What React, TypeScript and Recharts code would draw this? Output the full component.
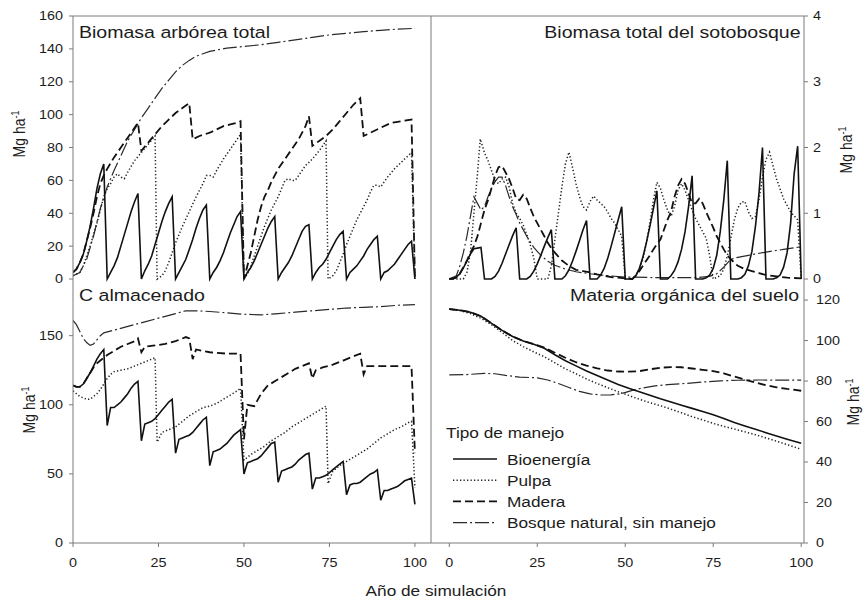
import React from 'react';
import { LineChart, Line, XAxis, YAxis, ReferenceLine } from 'recharts';

type Pt = [number, number];

// ---- Biomasa arbórea total (Mg ha-1) ----
const arbBio: Pt[] = [
  [0, 4], [1, 6], [2, 10], [3, 15], [4, 23], [5, 32], [6, 43], [7, 55], [8, 64], [9, 70], [10, 0],
  [11, 4], [12, 8], [13, 13], [14, 20], [15, 27], [16, 34], [17, 41], [18, 47], [19, 52], [20, 0],
  [21, 5], [22, 9], [23, 14], [24, 21], [25, 28], [26, 35], [27, 41], [28, 46], [29, 50], [30, 0],
  [31, 4], [32, 8], [33, 12], [34, 18], [35, 24], [36, 31], [37, 37], [38, 42], [39, 45], [40, 0],
  [41, 4], [42, 7], [43, 11], [44, 16], [45, 22], [46, 28], [47, 33], [48, 38], [49, 41], [50, 0],
  [51, 4], [52, 7], [53, 11], [54, 16], [55, 21], [56, 26], [57, 31], [58, 35], [59, 38], [60, 0],
  [61, 4], [62, 7], [63, 10], [64, 14], [65, 19], [66, 24], [67, 29], [68, 32], [69, 33], [70, 0],
  [71, 4], [72, 7], [73, 9], [74, 12], [75, 16], [76, 20], [77, 24], [78, 27], [79, 29], [80, 0],
  [81, 4], [82, 6], [83, 8], [84, 11], [85, 14], [86, 18], [87, 21], [88, 24], [89, 26], [90, 0],
  [91, 4], [92, 5], [93, 7], [94, 9], [95, 12], [96, 15], [97, 18], [98, 21], [99, 23], [100, 0],
];
const arbPulpa: Pt[] = [
  [0, 2], [1, 3], [2, 4], [3, 8], [4, 14], [5, 20], [6, 27], [7, 34], [8, 42], [9, 50], [10, 55],
  [11, 58], [12, 62], [13, 64], [14, 62], [15, 61], [16, 65], [18, 72], [20, 77], [22, 82], [24, 87], [24.6, 0],
  [26, 2], [27, 5], [28, 10], [29, 16], [30, 22], [31, 27], [32, 32], [34, 41], [36, 50], [38, 58], [39, 63],
  [40, 63], [41, 62], [42, 66], [44, 73], [46, 79], [48, 85], [49, 88], [50, 0],
  [51, 3], [52, 8], [53, 14], [54, 20], [55, 26], [56, 32], [57, 37], [58, 42], [59, 46], [60, 50],
  [61, 55], [62, 60], [63, 61], [64, 60], [65, 60], [66, 63], [67, 66], [68, 69], [70, 73], [72, 78], [74, 84], [74.6, 0],
  [76, 2], [77, 5], [78, 10], [79, 15], [80, 21], [81, 26], [82, 31], [83, 36], [84, 40], [85, 44],
  [86, 48], [87, 53], [88, 57], [89, 57], [90, 56], [91, 59], [92, 62], [94, 67], [96, 71], [98, 75], [99, 77], [100, 0],
];
const arbMadera: Pt[] = [
  [0, 4], [1, 6], [2, 10], [3, 15], [4, 23], [5, 31], [6, 40], [7, 50], [8, 58], [9, 63], [10, 67],
  [12, 74], [14, 80], [16, 86], [18, 92], [19, 95], [20, 78], [22, 83], [24, 88], [26, 93], [28, 97],
  [30, 101], [32, 104], [34, 107], [35, 85], [37, 87], [40, 89], [42, 91], [44, 93], [46, 94], [48, 95], [49, 96], [50, 0],
  [51, 8], [52, 16], [53, 26], [54, 36], [55, 44], [56, 50], [57, 54], [58, 59], [59, 63], [60, 67],
  [62, 73], [64, 79], [66, 85], [68, 93], [69, 99], [70, 81], [72, 84], [74, 87], [76, 91], [78, 96],
  [80, 101], [82, 106], [84, 110], [85, 87], [87, 89], [90, 92], [93, 95], [96, 96], [99, 97], [100, 0],
];
const arbNatural: Pt[] = [
  [0, 2], [2, 4], [4, 12], [6, 26], [8, 43], [10, 56], [12, 66], [14, 75], [16, 84], [18, 91], [20, 98],
  [22, 104], [24, 110], [26, 116], [28, 121], [30, 126], [32, 130], [34, 133], [36, 135.5], [38, 137],
  [40, 138.5], [45, 140.5], [50, 141.5], [55, 142.5], [60, 144], [65, 145.5], [70, 147], [75, 148.5],
  [80, 149.5], [85, 150.5], [90, 151.3], [95, 152], [100, 152.5],
];

// ---- Biomasa total del sotobosque (Mg ha-1) ----
const sotBio: Pt[] = [
  [0, 0], [1, 0], [2, 0.03], [3, 0.08], [4, 0.17], [5, 0.27], [6, 0.38], [7, 0.46], [8, 0.47], [9, 0.48], [10, 0],
  [12, 0], [13, 0.04], [14, 0.12], [15, 0.24], [16, 0.38], [17, 0.52], [18, 0.66], [19, 0.78], [20, 0],
  [22, 0], [23, 0.04], [24, 0.12], [25, 0.23], [26, 0.36], [27, 0.5], [28, 0.63], [29, 0.75], [30, 0],
  [32, 0], [33, 0.05], [34, 0.14], [35, 0.27], [36, 0.42], [37, 0.58], [38, 0.75], [39, 0.89], [40, 0],
  [42, 0], [43, 0.06], [44, 0.16], [45, 0.31], [46, 0.5], [47, 0.7], [48, 0.9], [49, 1.1], [50, 0],
  [52, 0], [53, 0.05], [54, 0.16], [55, 0.33], [56, 0.55], [57, 0.8], [58, 1.07], [59, 1.34], [60, 0],
  [62, 0], [63, 0.05], [64, 0.13], [65, 0.26], [66, 0.45], [67, 0.72], [68, 1.1], [69, 1.57], [70, 0],
  [72, 0], [73, 0.02], [74, 0.06], [75, 0.16], [76, 0.36], [77, 0.72], [78, 1.2], [79, 1.8], [80, 0],
  [82, 0], [83, 0.02], [84, 0.07], [85, 0.2], [86, 0.42], [87, 0.8], [88, 1.3], [89, 2.0], [90, 0],
  [92, 0], [93, 0.02], [94, 0.06], [95, 0.18], [96, 0.4], [97, 0.85], [98, 1.6], [99, 2.02], [100, 0],
];
const sotPulpa: Pt[] = [
  [0, 0], [4, 0], [5, 0.1], [6, 0.4], [7, 1.0], [8, 1.6], [8.8, 2.13], [10, 1.92], [11, 1.8], [12, 1.65],
  [13, 1.5], [14, 1.45], [15, 1.52], [16, 1.55], [17, 1.4], [18, 1.15], [19, 1.0], [20, 0.92], [21, 0.82],
  [22, 0.68], [23, 0.52], [24, 0.32], [25, 0],
  [28, 0], [29, 0.2], [30, 0.6], [31, 1.0], [32, 1.4], [33, 1.75], [34, 1.93], [35, 1.7], [36, 1.45],
  [37, 1.25], [38, 1.1], [39, 1.05], [40, 1.18], [41, 1.26], [42, 1.2], [43, 1.15], [44, 1.1], [45, 1.02],
  [46, 0.92], [47, 0.85], [48, 0.75], [49, 0.65], [50, 0],
  [52, 0], [53, 0.05], [54, 0.15], [55, 0.3], [56, 0.55], [57, 0.85], [58, 1.2], [59, 1.47], [60, 1.38],
  [61, 1.2], [62, 1.05], [63, 0.95], [64, 1.1], [65, 1.35], [66, 1.45], [67, 1.35], [68, 1.2], [69, 1.05],
  [70, 0.92], [71, 0.82], [72, 0.72], [73, 0.62], [74, 0.35], [75, 0],
  [77, 0.05], [78, 0.15], [79, 0.35], [80, 0.62], [81, 0.9], [82, 1.08], [83, 1.17], [84, 1.18], [85, 1.02],
  [86, 0.92], [87, 0.95], [88, 1.2], [89, 1.55], [90, 1.82], [91, 1.93], [92, 1.72], [93, 1.52], [94, 1.37],
  [95, 1.22], [96, 1.12], [97, 1.02], [98, 0.96], [99, 0.9], [100, 0],
];
const sotMadera: Pt[] = [
  [0, 0], [2, 0.02], [3, 0.08], [4, 0.18], [5, 0.28], [6, 0.4], [7, 0.5], [8, 0.65], [9, 0.85], [10, 1.05],
  [11, 1.2], [12, 1.38], [13, 1.57], [14, 1.7], [15, 1.72], [16, 1.62], [17, 1.52], [18, 1.38], [19, 1.22],
  [20, 1.2], [21, 1.28], [22, 1.22], [23, 1.08], [24, 0.95], [25, 0.85], [26, 0.75], [27, 0.65], [28, 0.55],
  [29, 0.47], [30, 0.4], [32, 0.28], [34, 0.2], [36, 0.14], [38, 0.12], [40, 0.1], [42, 0.07], [44, 0.05],
  [46, 0.03], [48, 0.02], [50, 0.01], [52, 0], [53, 0.05], [54, 0.12], [55, 0.2], [56, 0.28], [57, 0.36],
  [58, 0.45], [59, 0.53], [60, 0.6], [61, 0.75], [62, 0.9], [63, 1.02], [64, 1.25], [65, 1.42], [66, 1.52],
  [67, 1.45], [68, 1.3], [69, 1.15], [70, 1.15], [71, 1.22], [72, 1.15], [73, 1.02], [74, 0.9], [75, 0.78],
  [76, 0.65], [77, 0.55], [78, 0.45], [79, 0.36], [80, 0.3], [82, 0.2], [84, 0.15], [86, 0.12], [88, 0.09],
  [90, 0.06], [93, 0.04], [96, 0.02], [100, 0.01],
];
const sotNatural: Pt[] = [
  [0, 0], [2, 0.05], [3, 0.2], [4, 0.4], [5, 0.65], [6, 0.95], [7, 1.25], [8, 1.15], [9, 1.05], [10, 1.1],
  [11, 1.25], [12, 1.38], [13, 1.48], [14, 1.55], [15, 1.55], [16, 1.42], [17, 1.25], [18, 1.1], [19, 0.98],
  [20, 0.85], [22, 0.65], [24, 0.48], [26, 0.36], [28, 0.27], [30, 0.21], [33, 0.15], [36, 0.11], [40, 0.08],
  [45, 0.05], [50, 0.03], [60, 0.02], [70, 0.02], [74, 0.04], [76, 0.08], [78, 0.18], [80, 0.3], [82, 0.33],
  [85, 0.36], [90, 0.41], [95, 0.45], [100, 0.49],
];

// ---- C almacenado (Mg ha-1) ----
const cBio: Pt[] = [
  [0, 114], [1, 113], [2, 113], [3, 115], [4, 119], [5, 123], [6, 128], [7, 133], [8, 137], [9, 140], [10, 85],
  [11, 98], [12, 98], [13, 100], [14, 102], [15, 105], [16, 108], [17, 112], [18, 115], [19, 117], [20, 74],
  [21, 86], [22, 87], [23, 88], [24, 90], [25, 93], [26, 96], [27, 99], [28, 102], [29, 104], [30, 65],
  [31, 75], [32, 76], [33, 77], [34, 78], [35, 80], [36, 83], [37, 86], [38, 89], [39, 91], [40, 56],
  [41, 66], [42, 67], [43, 68], [44, 70], [45, 72], [46, 75], [47, 78], [48, 80], [49, 82], [50, 50],
  [51, 58], [52, 59], [53, 60], [54, 61], [55, 63], [56, 66], [57, 69], [58, 72], [59, 73], [60, 44],
  [61, 52], [62, 53], [63, 54], [64, 55], [65, 57], [66, 60], [67, 62], [68, 64], [69, 65], [70, 39],
  [71, 47], [72, 47], [73, 48], [74, 49], [75, 51], [76, 53], [77, 55], [78, 57], [79, 59], [80, 35],
  [81, 42], [82, 43], [83, 43], [84, 44], [85, 46], [86, 48], [87, 50], [88, 51], [89, 53], [90, 31],
  [91, 38], [92, 38], [93, 39], [94, 40], [95, 41], [96, 43], [97, 45], [98, 46], [99, 47], [100, 28],
];
const cPulpa: Pt[] = [
  [0, 110], [1, 108], [2, 106], [3, 105], [4, 104], [5, 104], [6, 106], [7, 108], [8, 111], [9, 115], [10, 119],
  [11, 122], [12, 124], [14, 125], [16, 126], [18, 128], [20, 130], [22, 132], [24, 134], [24.6, 73],
  [26, 80], [28, 82], [30, 84], [32, 88], [34, 92], [36, 95], [38, 98], [40, 99], [42, 101], [44, 104],
  [46, 107], [48, 110], [49, 112], [50, 60], [51, 62], [52, 64], [54, 67], [56, 70], [58, 74], [60, 77],
  [62, 80], [64, 84], [66, 87], [68, 90], [70, 93], [72, 96], [74, 99], [74.6, 43], [76, 52], [78, 56],
  [80, 59], [82, 62], [84, 65], [86, 68], [88, 72], [90, 76], [92, 79], [94, 82], [96, 84], [98, 87], [99, 88], [100, 40],
];
const cMadera: Pt[] = [
  [0, 114], [1, 113], [2, 113], [3, 115], [4, 119], [5, 123], [6, 127], [7, 130], [8, 132], [9, 134], [10, 136],
  [12, 139], [14, 142], [16, 144], [18, 146], [19, 148], [20, 138], [21, 142], [24, 143], [27, 144], [30, 146],
  [33, 149], [34, 148], [35, 133], [36, 140], [38, 139], [40, 138], [45, 137], [49, 137], [50, 75], [51, 100],
  [53, 99], [55, 108], [57, 114], [59, 117], [61, 120], [63, 123], [65, 126], [67, 128], [69, 130], [70, 119],
  [71, 125], [73, 127], [76, 129], [79, 132], [82, 135], [84, 137], [85, 122], [86, 128], [90, 128], [95, 128],
  [99, 128], [100, 65],
];
const cNatural: Pt[] = [
  [0, 161], [1, 158], [2, 153], [3, 148], [4, 145], [5, 143], [6, 144], [7, 147], [8, 150], [9, 152], [12, 154],
  [15, 156], [18, 158], [21, 160], [24, 162], [27, 164], [30, 166], [33, 168], [36, 168], [40, 167.5], [45, 166.5],
  [50, 165.5], [55, 165], [60, 166], [65, 167], [70, 168], [75, 169], [80, 170], [85, 170.5], [90, 171],
  [95, 172], [100, 172.5],
];

// ---- Materia orgánica del suelo (Mg ha-1) ----
const sueloBio: Pt[] = [
  [0, 115.5], [3, 115], [6, 114], [9, 112], [12, 108.5], [15, 105], [18, 102], [21, 99.8], [24, 98.2], [27, 96.2],
  [30, 93], [33, 90], [36, 87.5], [39, 85], [42, 82.7], [45, 80.5], [48, 78.3], [51, 76.4], [54, 74.7], [57, 73],
  [60, 71.2], [63, 69.6], [66, 68], [69, 66.5], [72, 64.9], [75, 63.3], [78, 61.5], [81, 59.5], [84, 57.8],
  [87, 56.2], [90, 54.5], [93, 52.9], [96, 51.3], [100, 49.3],
];
const sueloPulpa: Pt[] = [
  [0, 115.5], [3, 114.8], [6, 113.3], [9, 111], [12, 107.8], [15, 104], [18, 100], [21, 97], [24, 94.4], [27, 92],
  [30, 89], [33, 86], [36, 83.6], [39, 81], [42, 78.8], [45, 76.7], [48, 74.7], [51, 72.9], [54, 71], [57, 69.3],
  [60, 67.8], [63, 66.1], [66, 64.3], [69, 62.4], [72, 60.8], [75, 59.1], [78, 57.6], [81, 56.3], [84, 54.9],
  [87, 53.5], [90, 51.9], [93, 50.3], [96, 48.6], [100, 46.3],
];
const sueloMadera: Pt[] = [
  [0, 115.5], [3, 115], [6, 114], [9, 112], [12, 108.5], [15, 105], [18, 102], [21, 99.8], [24, 98.2], [27, 96.5],
  [30, 94], [33, 91.5], [36, 89.3], [39, 87.6], [42, 86.3], [45, 85.2], [48, 84.7], [51, 84.6], [54, 84.9],
  [57, 85.8], [60, 86.6], [63, 86.9], [66, 86.8], [69, 86.2], [72, 85.5], [75, 84.9], [78, 83.8], [81, 82.2],
  [84, 80.7], [87, 79.3], [90, 77.9], [93, 76.9], [96, 76.1], [100, 75.2],
];
const sueloNatural: Pt[] = [
  [0, 83], [5, 83.2], [10, 83.8], [13, 83.6], [16, 82.8], [20, 81.9], [25, 81.6], [28, 80.5], [31, 78.8],
  [34, 76.8], [37, 74.9], [40, 73.7], [43, 73.1], [46, 73.2], [49, 73.8], [52, 75.4], [55, 76.6], [58, 77.5],
  [62, 78.2], [67, 78.8], [72, 79.5], [77, 80.1], [82, 80.4], [88, 80.5], [94, 80.5], [100, 80.5],
];

const arbTicks = [0, 20, 40, 60, 80, 100, 120, 140, 160];
const sotTicks = [0, 1, 2, 3, 4];
const cTicks = [0, 50, 100, 150];
const sueloTicks = [0, 20, 40, 60, 80, 100, 120];
const yearTicks = [0, 25, 50, 75, 100];

const FONT = '"Liberation Sans", Arial, Helvetica, sans-serif';
const SX = 1.15; // the figure is stretched a bit horizontally
const AXIS = '#7a7a7a';
const INK = '#1c1c1c';

const STYLES = {
  natural: { name: 'Bosque natural, sin manejo', dash: '14 3 2 3', width: 1.2, color: '#2a2a2a' },
  madera: { name: 'Madera', dash: '8 4', width: 1.8, color: '#111' },
  pulpa: { name: 'Pulpa', dash: '1.3 2.2', width: 1.5, color: '#222' },
  bio: { name: 'Bioenergía', dash: undefined as string | undefined, width: 1.6, color: '#111' },
};
const ORDER: (keyof typeof STYLES)[] = ['natural', 'madera', 'pulpa', 'bio'];
const LEGEND_ORDER: (keyof typeof STYLES)[] = ['bio', 'pulpa', 'madera', 'natural'];

const toRows = (pts: Pt[]) => pts.map(([x, y]) => ({ x, y }));

const AxisTick = (props: any) => {
  const { x, y, payload, textAnchor, vertical } = props;
  return (
    <text
      transform={`translate(${x},${y}) scale(${SX},1)`}
      textAnchor={textAnchor}
      dy={vertical ? '0.35em' : '0.71em'}
      fontSize={12.5}
      fontFamily={FONT}
      fill={INK}
    >
      {payload.value}
    </text>
  );
};

const renderLines = (set: Record<string, Pt[]>) =>
  ORDER.map((k) => (
    <Line
      key={k}
      data={toRows(set[k])}
      dataKey="y"
      name={STYLES[k].name}
      type="linear"
      stroke={STYLES[k].color}
      strokeWidth={STYLES[k].width}
      strokeDasharray={STYLES[k].dash}
      dot={false}
      activeDot={false}
      isAnimationActive={false}
    />
  ));

const LEFT_DOMAIN: [number, number] = [0, 104.7];
const RIGHT_DOMAIN: [number, number] = [-5.2, 100.8];

const Label = ({ x, y, size, anchor = 'start', children }: any) => (
  <text
    transform={`translate(${x},${y}) scale(${SX},1)`}
    textAnchor={anchor}
    fontSize={size}
    fontFamily={FONT}
    fill={INK}
  >
    {children}
  </text>
);

const YLabel = ({ x, y }: { x: number; y: number }) => (
  <text
    transform={`translate(${x},${y}) scale(${SX},1) rotate(-90)`}
    textAnchor="middle"
    dy="0.35em"
    fontSize={14}
    fontFamily={FONT}
    fill={INK}
  >
    Mg ha<tspan dy={-5} fontSize={9}>-1</tspan>
  </text>
);

export default function App() {
  const lineAxis = { stroke: AXIS };
  return (
    <div style={{ position: 'absolute', left: 0, top: 0, width: 863, height: 600, background: '#fff', overflow: 'hidden' }}>
      {/* top left: Biomasa arbórea total */}
      <div style={{ position: 'absolute', left: 0, top: 0 }}>
        <LineChart width={440} height={290} margin={{ top: 16, right: 9, bottom: 11, left: 0 }}>
          <XAxis type="number" dataKey="x" domain={LEFT_DOMAIN} allowDataOverflow height={0} tick={false} tickLine={false} axisLine={lineAxis} />
          <YAxis type="number" domain={[0, 160]} ticks={arbTicks} interval={0} width={73} tickSize={4} tickMargin={6}
            axisLine={lineAxis} tickLine={lineAxis} tick={(p: any) => <AxisTick {...p} vertical />} />
          <ReferenceLine y={160} stroke={AXIS} ifOverflow="visible" />
          <ReferenceLine x={LEFT_DOMAIN[1]} stroke={AXIS} ifOverflow="visible" />
          {renderLines({ natural: arbNatural, madera: arbMadera, pulpa: arbPulpa, bio: arbBio })}
        </LineChart>
      </div>

      {/* top right: Biomasa total del sotobosque */}
      <div style={{ position: 'absolute', left: 431, top: 0 }}>
        <LineChart width={432} height={290} margin={{ top: 16, right: 0, bottom: 11, left: 0 }}>
          <XAxis type="number" dataKey="x" domain={RIGHT_DOMAIN} allowDataOverflow height={0} tick={false} tickLine={false} axisLine={lineAxis} />
          <YAxis type="number" orientation="right" domain={[0, 4]} ticks={sotTicks} interval={0} width={59} tickSize={4} tickMargin={5}
            axisLine={lineAxis} tickLine={lineAxis} tick={(p: any) => <AxisTick {...p} vertical />} />
          <ReferenceLine y={4} stroke={AXIS} ifOverflow="visible" />
          {renderLines({ natural: sotNatural, madera: sotMadera, pulpa: sotPulpa, bio: sotBio })}
        </LineChart>
      </div>

      {/* bottom left: C almacenado */}
      <div style={{ position: 'absolute', left: 0, top: 279 }}>
        <LineChart width={440} height={300} margin={{ top: 0, right: 9, bottom: 0, left: 0 }}>
          <XAxis type="number" dataKey="x" domain={LEFT_DOMAIN} allowDataOverflow ticks={yearTicks} interval={0} height={36} tickSize={4} tickMargin={11}
            axisLine={lineAxis} tickLine={lineAxis} tick={(p: any) => <AxisTick {...p} />} />
          <YAxis type="number" domain={[0, 191]} ticks={cTicks} interval={0} width={73} tickSize={4} tickMargin={6}
            axisLine={lineAxis} tickLine={lineAxis} tick={(p: any) => <AxisTick {...p} vertical />} />
          <ReferenceLine x={LEFT_DOMAIN[1]} stroke={AXIS} ifOverflow="visible" />
          {renderLines({ natural: cNatural, madera: cMadera, pulpa: cPulpa, bio: cBio })}
        </LineChart>
      </div>

      {/* bottom right: Materia orgánica del suelo */}
      <div style={{ position: 'absolute', left: 431, top: 279 }}>
        <LineChart width={432} height={300} margin={{ top: 0, right: 0, bottom: 0, left: 0 }}>
          <XAxis type="number" dataKey="x" domain={RIGHT_DOMAIN} allowDataOverflow ticks={yearTicks} interval={0} height={36} tickSize={4} tickMargin={11}
            axisLine={lineAxis} tickLine={lineAxis} tick={(p: any) => <AxisTick {...p} />} />
          <YAxis type="number" orientation="right" domain={[0, 130.4]} ticks={sueloTicks} interval={0} width={59} tickSize={4} tickMargin={8}
            axisLine={lineAxis} tickLine={lineAxis} tick={(p: any) => <AxisTick {...p} vertical />} />
          {renderLines({ natural: sueloNatural, madera: sueloMadera, pulpa: sueloPulpa, bio: sueloBio })}
        </LineChart>
      </div>

      {/* titles, axis labels and legend */}
      <svg width={863} height={600} style={{ position: 'absolute', left: 0, top: 0, pointerEvents: 'none' }}>
        <Label x={79} y={37.5} size={17}>Biomasa arbórea total</Label>
        <Label x={800.5} y={37.5} size={17} anchor="end">Biomasa total del sotobosque</Label>
        <Label x={79} y={300.7} size={17}>C almacenado</Label>
        <Label x={799} y={300.7} size={17} anchor="end">Materia orgánica del suelo</Label>
        <Label x={436} y={596} size={15} anchor="middle">Año de simulación</Label>
        <YLabel x={19.5} y={134} />
        <YLabel x={846} y={150} />
        <YLabel x={29} y={410} />
        <YLabel x={853} y={402} />

        <Label x={446} y={438.3} size={15}>Tipo de manejo</Label>
        {LEGEND_ORDER.map((k, i) => {
          const cy = 459 + i * 21.2;
          const s = STYLES[k];
          return (
            <g key={k}>
              <line x1={453} x2={497} y1={cy} y2={cy} stroke={s.color} strokeWidth={s.width} strokeDasharray={s.dash} />
              <Label x={507} y={cy + 5.5} size={15}>{s.name}</Label>
            </g>
          );
        })}
      </svg>
    </div>
  );
}
